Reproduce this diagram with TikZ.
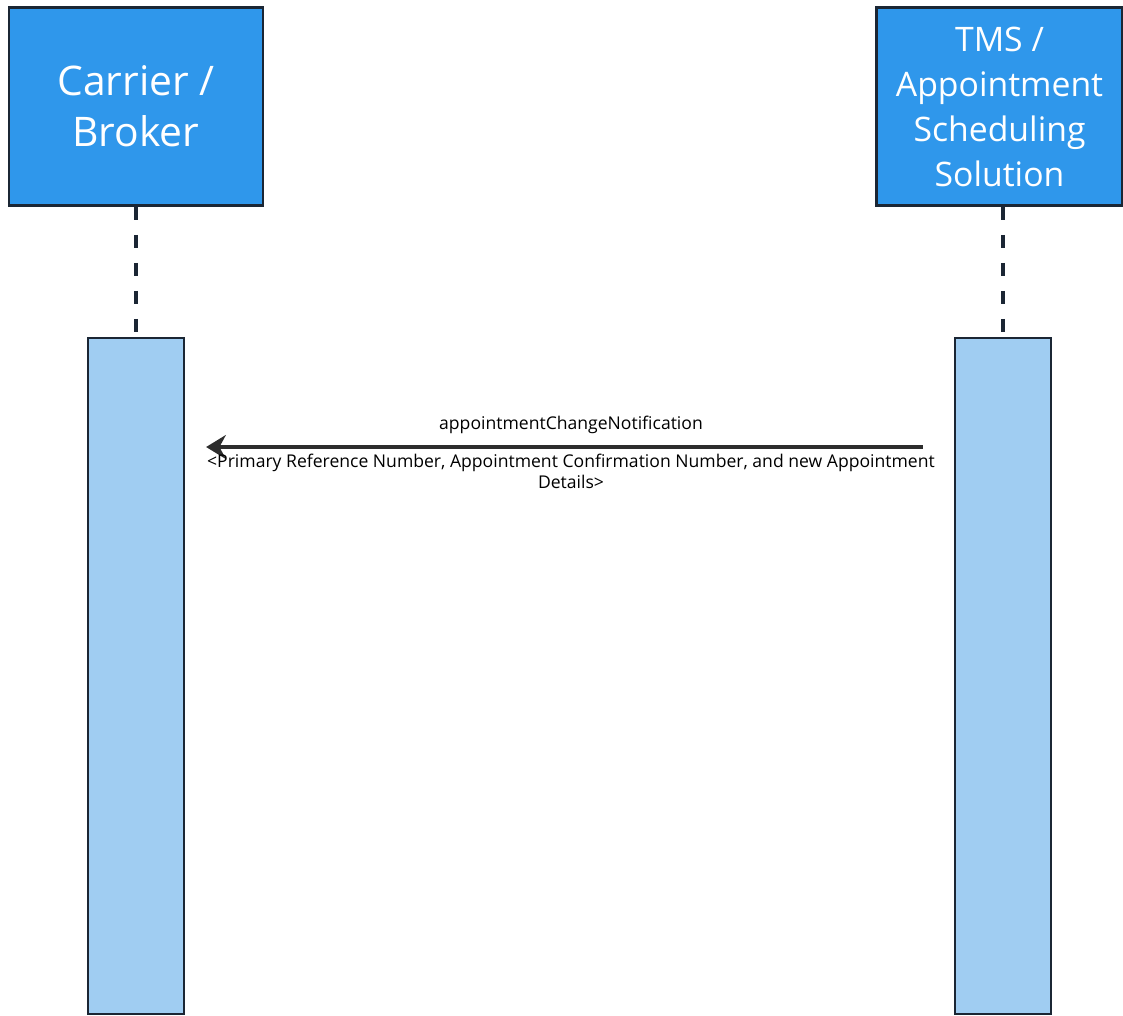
\documentclass[tikz,border=0pt]{standalone}
\usepackage{fontspec}
\setmainfont{Open Sans}
\usetikzlibrary{arrows.meta,positioning,calc}
\definecolor{actorblue}{RGB}{47,151,235}
\definecolor{barblue}{RGB}{160,205,242}
\definecolor{edgenavy}{RGB}{27,38,52}
\definecolor{msggray}{RGB}{45,45,45}
\tikzset{
	actor/.style={draw=edgenavy, line width=2pt, fill=actorblue, text=white,
		align=center, inner sep=0pt},
	activation/.style={draw=edgenavy, line width=1.6pt, fill=barblue,
		minimum width=2.4cm, minimum height=16.9cm, inner sep=0pt},
	lifeline/.style={draw=edgenavy, line width=2.3pt, dash pattern=on 9.2pt off 10.7pt},
	msg/.style={draw=msggray, line width=2.5pt, -{Stealth[length=14pt,width=17pt]}},
	msglabel/.style={font=\fontsize{12.5}{15}\selectfont, text=black, inner sep=0pt}
}

\begin{document}
\begin{tikzpicture}[x=0.025cm, y=-0.025cm]
%
\useasboundingbox[fill=white] (0,0) rectangle (1123,1015);
%
	\node[actor, minimum width=6.35cm, minimum height=4.95cm,
		font=\fontsize{29}{36}\selectfont] (carrier) at (136,106.5) {Carrier /\\Broker};
	\node[actor, minimum width=6.15cm, minimum height=4.95cm,
		font=\fontsize{24}{32}\selectfont] (tms) at (999.5,106.5) {TMS /\\Appointment\\Scheduling\\Solution};
%
	\node[activation] (carrierbar) at (136,676) {};
	\node[activation] (tmsbar) at (1003,676) {};
%
	\draw[lifeline] (carrier.south) -- (carrierbar.north);
	\draw[lifeline] (tmsbar.north |- tms.south) -- (tmsbar.north);
%
	\coordinate (m) at (0,447);
	\draw[msg, shorten <=31*0.025cm, shorten >=21*0.025cm] (tmsbar.west |- m) -- (carrierbar.east |- m);
	\node[msglabel] (msgname) at (571,425) {appointmentChangeNotification};
	\node[msglabel, align=center] (msgargs) at (571,471) {<Primary Reference Number, Appointment Confirmation Number, and new Appointment\\Details>};
\end{tikzpicture}
\end{document}
